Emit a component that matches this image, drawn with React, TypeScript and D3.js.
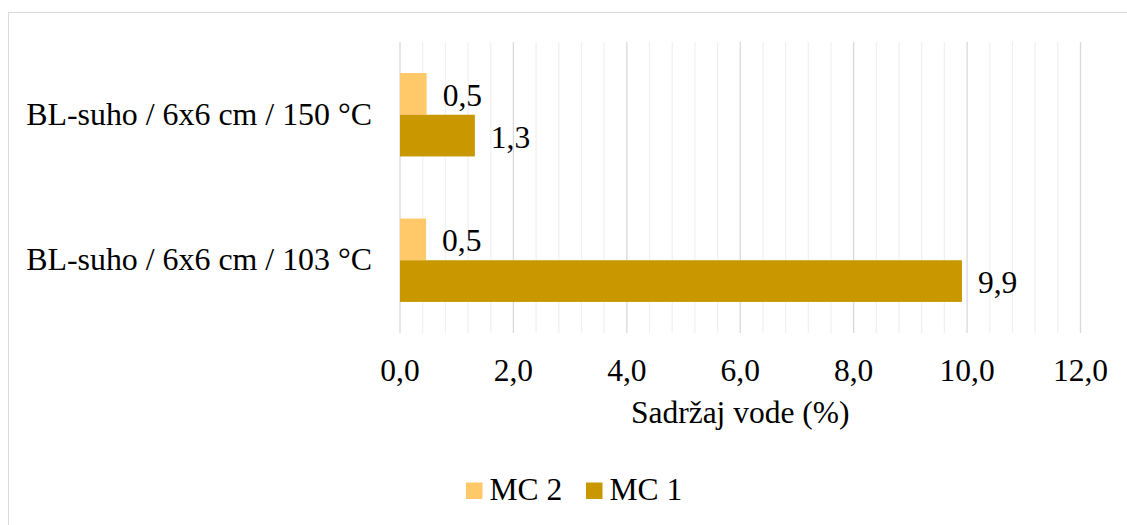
import React from 'react';
import * as d3 from 'd3';

const WIDTH = 1127;
const HEIGHT = 525;

// data
const categories = ['BL-suho / 6x6 cm / 150 °C', 'BL-suho / 6x6 cm / 103 °C'];
const seriesNames = ['MC 2', 'MC 1'];
const mc2 = [0.47, 0.46];
const mc1 = [1.32, 9.91];
const xTicks = [0, 2, 4, 6, 8, 10, 12];
const colors = ['#FFC869', '#C99700'];

const FONT = "'Liberation Serif', 'Times New Roman', Times, serif";
const FS = 31.5;

const margin = { left: 400, right: 1127 - 1080.5, top: 42, bottom: 525 - 333 };

const fmt = (v: number) => v.toFixed(1).replace('.', ',');

export default function App() {
  const x = d3.scaleLinear().domain([0, 12]).range([margin.left, WIDTH - margin.right]);
  const y = d3.scaleBand<string>()
    .domain(categories)
    .range([margin.top, HEIGHT - margin.bottom])
    .paddingInner(0.427)
    .paddingOuter(0.2135);
  const inner = d3.scaleBand<string>().domain(seriesNames).range([0, y.bandwidth()]);

  const values = [mc2, mc1];
  const minor = d3.range(0, 12.001, 0.4).filter(v => Math.abs(v / 2 - Math.round(v / 2)) > 1e-6);
  const [y0, y1] = y.range();
  const txt = { fontFamily: FONT, fontSize: FS };

  return (
    <svg
      xmlns="http://www.w3.org/2000/svg"
      width={WIDTH}
      height={HEIGHT}
      style={{ position: 'absolute', left: 0, top: 0, background: '#fff', fontFamily: FONT }}
    >
      <rect x={8.5} y={12.5} width={WIDTH + 10} height={HEIGHT + 10} fill="#fff" stroke="#d9d9d9" />
      <g>
        {minor.map(v => (
          <line key={'m' + v} x1={x(v)} x2={x(v)} y1={y0} y2={y1} stroke="#f0f0f0" strokeWidth={1.2} />
        ))}
        {xTicks.map(v => (
          <line key={'M' + v} x1={x(v)} x2={x(v)} y1={y0} y2={y1} stroke="#d9d9d9" strokeWidth={1.3} />
        ))}
      </g>
      <g>
        {categories.map((c, i) => (
          <g key={c}>
            {seriesNames.map((s, j) => {
              const v = values[j][i];
              const by = (y(c) ?? 0) + (inner(s) ?? 0);
              const bh = inner.bandwidth();
              return (
                <g key={s}>
                  <rect x={x(0)} y={by} width={x(v) - x(0)} height={bh} fill={colors[j]} />
                  <text x={x(v) + 16} y={by + bh / 2 + 12} style={txt} fill="#000">{fmt(v)}</text>
                </g>
              );
            })}
            <text x={372} y={(y(c) ?? 0) + y.bandwidth() / 2 + 10} textAnchor="end"
              style={{ ...txt, fontSize: 31.9 }} fill="#000">
              {c}
            </text>
          </g>
        ))}
      </g>
      <g>
        {xTicks.map(v => (
          <text key={v} x={x(v)} y={380.5} textAnchor="middle" style={txt} fill="#000">{fmt(v)}</text>
        ))}
        <text x={(x(0) + x(12)) / 2} y={423} textAnchor="middle" style={txt} fill="#000">Sadržaj vode (%)</text>
      </g>
      <g>
        {[466, 586].map((lx, j) => (
          <g key={seriesNames[j]}>
            <rect x={lx} y={482.5} width={16.5} height={16.5} fill={colors[j]} />
            <text x={lx + 23.5} y={500} style={txt} fill="#000">{seriesNames[j]}</text>
          </g>
        ))}
      </g>
    </svg>
  );
}
